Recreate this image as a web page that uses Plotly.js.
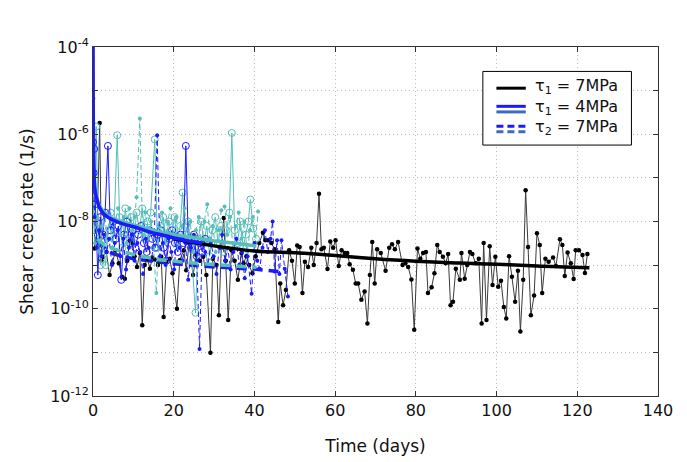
<!DOCTYPE html>
<html>
<head>
<meta charset="utf-8">
<script src="https://cdn.plot.ly/plotly-3.0.1.min.js"></script>
<style>html,body{margin:0;padding:0;background:#fff;}#chart{width:687px;height:462px;}</style>
</head>
<body>
<div id="chart"></div>
<script>
// ---- data: tau1 = 7MPa (black, measured) ----
const tau1_7_days = [
0.0,0.4,1.0,1.66,2.1,2.5,3.3,4.1,4.8,5.6,
6.4,7.2,7.9,8.5,9.1,9.7,10.3,10.9,11.6,12.2,
12.8,13.5,14.1,14.7,15.3,16.1,16.9,17.5,18.2,19.0,
19.7,20.8,21.5,22.5,23.1,23.8,24.8,25.6,26.5,27.3,
28.1,29.1,29.7,30.6,31.2,31.8,32.4,32.9,33.5,34.3,
35.1,35.9,36.8,37.3,38.0,38.7,39.5,40.3,41.2,42.1,
42.7,43.4,44.2,45.0,45.9,46.4,47.1,47.8,48.6,49.3,
50.0,50.6,51.2,51.9,52.5,53.3,54.1,54.7,55.4,56.0,
56.6,57.2,58.1,58.8,59.5,60.1,60.9,61.6,62.4,63.0,
63.6,64.4,65.1,65.7,66.5,67.3,68.0,68.6,69.2,69.8,
70.4,71.3,72.5,73.4,74.1,74.8,75.6,76.7,77.4,78.1,
78.9,79.6,80.4,81.1,81.8,82.5,83.0,83.9,84.6,85.3,
85.9,86.7,87.4,88.0,88.6,89.2,89.9,90.9,91.3,92.1,
92.7,93.4,94.0,94.8,95.6,96.3,96.8,97.5,98.3,99.0,
99.7,100.4,101.1,101.8,102.4,103.1,103.8,104.6,105.3,105.9,
106.6,107.2,107.8,108.5,109.3,110.0,110.7,111.3,112.1,112.9,
114.0,114.7,115.7,116.3,116.9,117.6,118.4,119.1,119.6,120.4,
121.3,121.9,122.5];
const tau1_7_rate = [
6.6e-6,2.4e-9,6.3e-9,1.8e-6,1.3e-9,1.55e-9,2.0e-9,5.9e-10,1.1e-9,2.2e-9,
1.1e-9,5.4e-10,4.9e-10,1.26e-9,3.6e-9,3.2e-9,1.6e-9,9.1e-10,1.9e-9,4.2e-11,
1.0e-9,1.4e-9,8.3e-10,1.5e-9,1.35e-9,1.0e-9,1.55e-9,6.5e-11,1.2e-9,1.4e-9,
6.5e-10,1.0e-10,1.3e-9,2.2e-9,7.6e-10,3.2e-9,5.9e-10,1.7e-9,1.26e-9,1.55e-9,
5.9e-10,9.8e-12,1.4e-9,1.0e-9,7.1e-11,2.5e-9,1.2e-8,1.26e-9,5.5e-11,2.2e-9,
1.26e-9,4.6e-10,1.9e-9,1.1e-9,1.6e-9,1.0e-9,6.5e-10,1.6e-9,3.2e-9,5.5e-9,
3.7e-9,3.7e-9,3.2e-9,2.3e-9,5.0e-11,3.8e-10,1.2e-10,2.7e-10,2.2e-9,1.26e-9,
3.8e-10,2.8e-9,2.6e-9,2.3e-10,1.2e-9,9.1e-10,2.5e-9,1.0e-9,3.2e-9,4.3e-8,
2.3e-9,2.5e-9,8.1e-10,3.5e-9,2.5e-9,3.7e-9,9.5e-10,2.2e-9,1.9e-9,1.9e-9,
1.05e-9,7.8e-10,3.8e-10,3.8e-10,1.6e-10,2.5e-10,4.6e-11,5.9e-10,3.4e-9,3.8e-10,
2.3e-9,1.9e-9,7.4e-10,2.5e-9,3.0e-9,2.3e-9,3.4e-9,1.0e-9,1.1e-9,9.1e-10,
4.7e-10,3.3e-11,2.4e-9,1.4e-9,1.9e-9,2.0e-9,2.3e-10,3.1e-10,6.5e-10,2.9e-9,
2.0e-9,1.55e-9,1.1e-9,1.8e-9,1.2e-10,1.45e-10,8.3e-10,4.6e-10,1.9e-9,4.9e-10,
1.0e-9,2.0e-9,1.8e-9,1.1e-9,1.4e-9,4.6e-11,3.2e-9,5.5e-11,2.7e-9,3.5e-10,
1.55e-9,3.2e-10,4.4e-10,1.1e-10,6.0e-11,1.6e-9,5.4e-10,1.45e-10,7.4e-10,3.0e-11,
4.6e-10,5.2e-8,2.6e-9,7.1e-11,2.0e-10,5.4e-9,2.9e-9,2.3e-10,1.4e-9,1.2e-9,
1.5e-9,9.5e-10,3.9e-9,2.9e-9,5.6e-10,1.95e-9,1.1e-9,4.8e-10,2.2e-9,2.2e-9,
1.7e-9,6.6e-10,1.8e-9];

// ---- tau1 = 4MPa, blue run (solid, open circles) ----
const tau1_4_blue_days = [
0.0,0.15,0.3,0.6,1.2,1.8,2.4,3.0,3.7,4.3,
5.0,5.6,6.3,7.0,7.7,8.4,9.1,9.8,10.5,11.2,
11.9,12.6,13.3,14.0,14.7,15.4,16.1,16.8,17.5,18.2,
18.9,19.6,20.3,21.0,21.7,22.4,23.0,23.6,24.3,25.0,
25.7,26.4,27.1,27.8];
const tau1_4_blue_rate = [
6.6e-7,1.3e-7,4.6e-7,2.5e-8,5.9e-10,1.26e-8,5.0e-9,1.6e-8,5.4e-7,6.3e-9,
1.0e-8,4.0e-9,7.9e-9,4.6e-10,5.0e-9,1.0e-8,3.2e-9,6.3e-9,2.5e-9,5.0e-9,
7.9e-9,3.2e-9,2.0e-9,6.3e-9,4.0e-9,2.5e-9,5.0e-9,6.3e-9,2.5e-9,1.26e-9,
4.0e-9,6.3e-9,3.2e-9,2.0e-9,5.0e-9,3.2e-9,5.4e-7,4.0e-9,2.5e-9,5.0e-9,
1.6e-9,3.2e-9,2.0e-9,4.0e-9];

// ---- tau1 = 4MPa, teal run (solid, open circles) ----
const tau1_4_teal_days = [
0.0,0.4,0.8,1.3,1.9,2.5,3.1,3.8,4.4,5.1,
6.0,6.6,7.3,8.0,8.7,9.4,10.1,10.8,11.5,12.2,
12.9,13.6,14.3,15.3,16.0,16.7,17.4,18.1,18.8,19.5,
20.2,20.9,21.6,22.2,22.9,23.6,24.3,25.4,26.1,26.8,
27.5,28.2,28.9,29.6,30.3,31.0,31.7,32.4,33.1,33.8,
34.4,35.1,35.8,36.5,37.2,37.9,38.5,39.0,39.7,40.4];
const tau1_4_teal_rate = [
3.2e-8,6.3e-9,1.5e-6,4.0e-9,1.0e-9,3.2e-9,1.0e-9,6.3e-9,1.6e-8,4.0e-9,
9.5e-7,1.26e-8,2.5e-9,2.0e-8,5.0e-9,1.26e-8,3.2e-9,1.6e-8,6.3e-9,2.0e-8,
4.0e-9,1.0e-8,1.6e-8,7.6e-7,2.5e-9,7.9e-9,1.26e-8,4.0e-9,1.0e-8,5.0e-9,
1.26e-8,3.2e-9,7.9e-9,4.6e-8,5.0e-9,1.0e-8,2.5e-9,8.1e-11,4.0e-9,1.0e-8,
3.2e-9,7.9e-9,1.6e-9,6.3e-9,1.26e-8,3.2e-9,7.9e-9,2.0e-9,6.3e-9,1.6e-8,
1.07e-6,6.3e-9,3.2e-9,1.0e-8,2.5e-9,5.0e-9,1.0e-8,3.2e-8,6.9e-9,4.0e-9];

// ---- tau2 = 7MPa, blue run (dashed, dots) ----
const tau2_7_blue_days = [
0.0,0.4,0.9,1.5,2.1,2.7,3.4,4.0,4.7,5.4,
6.1,6.8,7.5,8.2,8.9,9.6,10.3,11.0,11.7,12.4,
13.1,13.8,14.5,15.2,15.9,16.6,17.3,18.0,18.7,19.4,
20.1,20.8,21.5,22.2,22.9,23.6,24.3,25.0,25.7,26.4,
27.1,27.8,28.5,29.2,29.9,30.6,31.3,32.0,32.7,33.4,
34.1,34.8,35.5,36.2,36.9,37.6,38.3,39.3,40.0,40.7,
41.3,42.0,42.6,43.3,44.0,44.5,45.0,45.6,46.2,46.7,47.5,48.3];
const tau2_7_blue_rate = [
3.0e-7,1.26e-8,2.5e-9,6.3e-9,1.6e-9,5.0e-9,2.0e-9,4.0e-9,1.0e-9,3.2e-9,
6.3e-9,1.6e-9,4.0e-9,7.9e-10,2.5e-9,5.0e-9,1.26e-9,3.2e-9,2.0e-9,6.3e-10,
4.0e-9,2.5e-9,1.26e-9,5.0e-9,9.5e-7,1.6e-9,3.2e-9,1.0e-9,4.0e-9,2.0e-9,
7.9e-10,5.0e-9,2.5e-9,1.26e-9,3.2e-9,4.6e-10,2.5e-9,5.0e-9,1.26e-9,1.2e-11,
4.0e-9,2.0e-9,1.0e-9,3.2e-9,1.6e-9,6.3e-10,2.5e-9,5.0e-9,1.26e-9,2.5e-9,
7.9e-10,2.0e-9,4.0e-9,1.0e-9,2.0e-9,5.0e-10,1.6e-9,2.2e-10,3.2e-9,1.26e-9,
8.3e-10,2.5e-9,6.3e-9,2.0e-9,4.0e-9,1.0e-8,7.1e-10,3.7e-9,6.3e-10,3.7e-9,8.3e-10,1.9e-10];

// ---- tau2 = 7MPa, teal run (dashed, dots) ----
const tau2_7_teal_days = [
0.0,0.5,1.1,1.7,2.3,2.9,3.5,4.1,4.8,5.5,
6.2,6.9,7.6,8.3,9.0,9.7,10.3,10.8,11.6,12.3,
13.0,13.7,14.4,15.0,15.7,16.4,17.1,17.8,18.5,19.2,
19.9,20.6,21.3,22.0,22.7,23.4,24.1,24.8,25.5,26.2,
26.9,27.6,28.3,29.0,29.7,30.4,31.1,31.8,32.6,33.3,
34.0,34.7,35.4,36.1,36.8,37.5,38.2,38.9,39.6,40.2,40.9];
const tau2_7_teal_rate = [
1.6e-8,3.2e-9,1.26e-8,2.0e-9,7.9e-9,1.6e-8,4.0e-9,1.26e-8,2.5e-9,1.0e-8,
2.0e-8,5.0e-9,1.26e-8,3.2e-9,2.0e-8,6.3e-9,1.26e-8,3.6e-8,2.3e-6,5.0e-9,
1.6e-8,4.0e-9,1.0e-8,2.5e-9,2.3e-10,7.9e-9,1.6e-8,3.2e-9,1.0e-8,2.0e-8,
5.0e-9,1.26e-8,2.5e-9,7.9e-9,2.0e-8,4.0e-9,1.0e-8,2.0e-9,6.3e-9,1.26e-8,
3.2e-9,1.0e-8,2.5e-8,4.0e-9,7.9e-9,2.0e-9,6.3e-9,1.8e-8,2.2e-8,5.0e-9,
1.26e-8,2.5e-9,7.9e-9,1.6e-8,4.0e-9,1.0e-8,2.0e-9,6.3e-9,1.26e-8,3.2e-9,1.7e-8];

// ---- fitted trends (thick lines) ----
const fit_tau1_7_days = [20,28,40,51,60,70,80,90,100,110,123];
const fit_tau1_7_rate = [4.0e-9,2.95e-9,2.1e-9,1.9e-9,1.66e-9,1.4e-9,1.23e-9,1.12e-9,1.05e-9,9.5e-10,8.7e-10];
const fit_tau1_4_blue_days = [0.02,0.05,0.1,0.2,0.4,0.7,1,1.4,2,3,4,6,8,10,14,18,22,27];
const fit_tau1_4_blue_rate = [1e-4,6.3e-6,1e-6,2.0e-7,6.3e-8,4.0e-8,3.2e-8,2.3e-8,1.8e-8,1.4e-8,1.2e-8,9.8e-9,8.5e-9,7.6e-9,5.8e-9,4.7e-9,3.8e-9,3.2e-9];
const fit_tau1_4_teal_days = [0.3,0.6,1,2,4,7,10,15,20,25,30,35,40.5];
const fit_tau1_4_teal_rate = [1e-7,5e-8,3.2e-8,2.0e-8,1.3e-8,1e-8,8.3e-9,6.3e-9,5.0e-9,4.3e-9,3.6e-9,3.2e-9,2.75e-9];
const fit_tau2_7_teal_days = [1,3,6,11,16,23,29,35,40.5];
const fit_tau2_7_teal_rate = [4.0e-9,2.8e-9,2.2e-9,1.66e-9,1.35e-9,1.15e-9,1.05e-9,9.5e-10,8.9e-10];
const fit_tau2_7_blue_days = [1,5,10,20,30,40,48];
const fit_tau2_7_blue_rate = [3.2e-9,1.8e-9,1.4e-9,1.07e-9,9.1e-10,8.1e-10,6.9e-10];

// ---- text ----
const chartTitle = 'σ = 12MPa';
const xTitle = 'Time (days)';
const yTitle = 'Shear creep rate (1/s)';
const xTicks = [0,20,40,60,80,100,120,140];
const yTickVals = [1e-12,1e-11,1e-10,1e-9,1e-8,1e-7,1e-6,1e-5,1e-4];
const yTickText = ['10<sup>-12</sup>','','10<sup>-10</sup>','','10<sup>-8</sup>','','10<sup>-6</sup>','','10<sup>-4</sup>'];
const legendLabels = ['τ<sub>1</sub> = 7MPa','τ<sub>1</sub> = 4MPa','τ<sub>2</sub> = 7MPa'];

const BLUE = '#1a1aff', TEAL = '#55bfb8', BLACK = '#000000', LBLUE2 = '#3d6bbf';
const FONT = 'DejaVu Sans, sans-serif';

const traces = [
  {x: fit_tau2_7_blue_days, y: fit_tau2_7_blue_rate, mode: 'lines', line: {color: BLUE, width: 3.5, dash: '10px,6px'}},
  {x: tau1_7_days, y: tau1_7_rate, mode: 'lines+markers', line: {color: '#3a3a3a', width: 1}, marker: {color: BLACK, size: 4.5}},
  {x: tau1_4_teal_days, y: tau1_4_teal_rate, mode: 'lines+markers', line: {color: TEAL, width: 1}, marker: {color: TEAL, size: 7, symbol: 'circle-open', line: {width: 1}}},
  {x: tau1_4_blue_days, y: tau1_4_blue_rate, mode: 'lines+markers', line: {color: BLUE, width: 1}, marker: {color: BLUE, size: 7, symbol: 'circle-open', line: {width: 1}}},
  {x: tau2_7_teal_days, y: tau2_7_teal_rate, mode: 'lines+markers', line: {color: TEAL, width: 1, dash: '5px,3px'}, marker: {color: TEAL, size: 4}},
  {x: tau2_7_blue_days, y: tau2_7_blue_rate, mode: 'lines+markers', line: {color: BLUE, width: 1, dash: '5px,3px'}, marker: {color: BLUE, size: 4}},
  {x: fit_tau2_7_teal_days, y: fit_tau2_7_teal_rate, mode: 'lines', line: {color: TEAL, width: 3.5, dash: '10px,6px'}},
  {x: fit_tau1_7_days, y: fit_tau1_7_rate, mode: 'lines', line: {color: BLACK, width: 3.5, shape: 'spline'}},
  {x: fit_tau1_4_teal_days, y: fit_tau1_4_teal_rate, mode: 'lines', line: {color: TEAL, width: 3.5, shape: 'spline'}},
  {x: fit_tau1_4_blue_days, y: fit_tau1_4_blue_rate, mode: 'lines', line: {color: BLUE, width: 3.5, shape: 'spline'}}
];
traces.forEach(t => { t.showlegend = false; t.hoverinfo = 'skip'; t.cliponaxis = true; });

// legend (drawn as a box with double-line swatches, in paper coords)
const lg = {x0: 0.690, x1: 0.953, y0: 0.719, y1: 0.930, sx0: 0.714, sx1: 0.766, tx: 0.779};
const rowsY = [0.882, 0.822, 0.765];
const shapes = [
  {type: 'rect', xref: 'paper', yref: 'paper', x0: lg.x0, x1: lg.x1, y0: lg.y0, y1: lg.y1, line: {color: '#000', width: 1}, fillcolor: '#fff', layer: 'above'},
  {type: 'line', xref: 'paper', yref: 'paper', x0: lg.sx0, x1: lg.sx1, y0: rowsY[0], y1: rowsY[0], line: {color: BLACK, width: 3}, layer: 'above'},
  {type: 'line', xref: 'paper', yref: 'paper', x0: lg.sx0, x1: lg.sx1, y0: rowsY[1] + 0.008, y1: rowsY[1] + 0.008, line: {color: BLUE, width: 3}, layer: 'above'},
  {type: 'line', xref: 'paper', yref: 'paper', x0: lg.sx0, x1: lg.sx1, y0: rowsY[1] - 0.008, y1: rowsY[1] - 0.008, line: {color: LBLUE2, width: 3}, layer: 'above'},
  {type: 'line', xref: 'paper', yref: 'paper', x0: lg.sx0, x1: lg.sx1, y0: rowsY[2] + 0.008, y1: rowsY[2] + 0.008, line: {color: BLUE, width: 3, dash: '7px,4px'}, layer: 'above'},
  {type: 'line', xref: 'paper', yref: 'paper', x0: lg.sx0, x1: lg.sx1, y0: rowsY[2] - 0.008, y1: rowsY[2] - 0.008, line: {color: LBLUE2, width: 3, dash: '7px,4px'}, layer: 'above'}
];
const annotations = legendLabels.map((t, i) => ({
  xref: 'paper', yref: 'paper', x: lg.tx, y: rowsY[i] + 0.004, xanchor: 'left', yanchor: 'middle',
  text: t, showarrow: false, font: {family: FONT, size: 16, color: '#111'}
}));
annotations.push({xref: 'paper', yref: 'container', x: 0.478, y: 1 - 18/462, xanchor: 'center', yanchor: 'middle',
  text: chartTitle, showarrow: false, font: {family: FONT, size: 17, color: '#111'}});

const axisCommon = {
  showline: true, linecolor: '#333', linewidth: 1, mirror: 'ticks',
  ticks: 'inside', ticklen: 5, tickcolor: '#333', tickwidth: 1,
  showgrid: true, gridcolor: '#bdbdbd', gridwidth: 1, griddash: '1px,3px',
  zeroline: false, tickfont: {family: FONT, size: 16, color: '#111'}
};

const layout = {
  width: 687, height: 462,
  margin: {l: 93, r: 29, t: 47, b: 66},
  paper_bgcolor: '#fff', plot_bgcolor: '#fff',
  showlegend: false,
  font: {family: FONT, color: '#111'},
  xaxis: Object.assign({}, axisCommon, {
    range: [0, 140], tickmode: 'array', tickvals: xTicks, ticktext: xTicks.map(String),
    title: {text: xTitle, font: {family: FONT, size: 17, color: '#111'}, standoff: 20}, automargin: false
  }),
  yaxis: Object.assign({}, axisCommon, {
    type: 'log', range: [-12, -4], tickmode: 'array', tickvals: yTickVals, ticktext: yTickText,
    title: {text: yTitle, font: {family: FONT, size: 17, color: '#111'}, standoff: 12}, automargin: false
  }),
  shapes: shapes,
  annotations: annotations
};

Plotly.newPlot('chart', traces, layout, {staticPlot: true, displayModeBar: false});
</script>
</body>
</html>
